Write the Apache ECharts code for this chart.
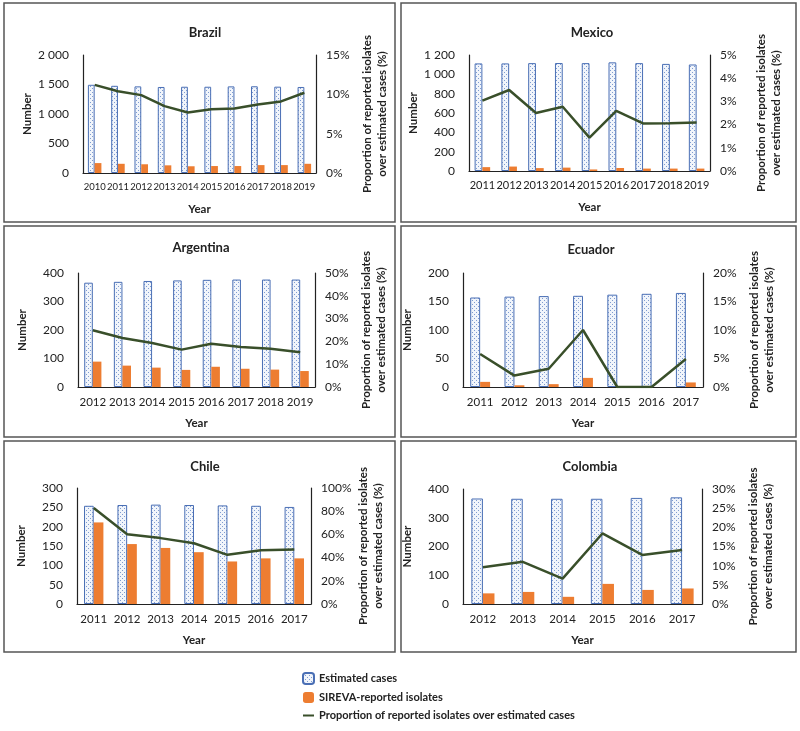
<!DOCTYPE html>
<html>
<head>
<meta charset="utf-8">
<script src="https://cdn.jsdelivr.net/npm/echarts@6/dist/echarts.min.js"></script>
<style>
html, body { margin: 0; padding: 0; background: #fff; }
#main { width: 800px; height: 731px; }
</style>
</head>
<body>
<div id="main"></div>
<script>
// data
var brazilYears = ['2010', '2011', '2012', '2013', '2014', '2015', '2016', '2017', '2018', '2019'];
var brazilEstimated = [1495, 1478, 1468, 1458, 1462, 1462, 1468, 1470, 1463, 1458];
var brazilSireva = [168, 156, 148, 130, 114, 118, 118, 134, 134, 156];
var brazilProportion = [11.2, 10.4, 9.9, 8.5, 7.7, 8.1, 8.2, 8.7, 9.1, 10.2];

var mexicoYears = ['2011', '2012', '2013', '2014', '2015', '2016', '2017', '2018', '2019'];
var mexicoEstimated = [1113, 1113, 1116, 1117, 1116, 1124, 1116, 1108, 1102];
var mexicoSireva = [40, 46, 30, 35, 16, 31, 25, 25, 25];
var mexicoProportion = [3.03, 3.49, 2.5, 2.77, 1.44, 2.59, 2.05, 2.06, 2.09];

var argentinaYears = ['2012', '2013', '2014', '2015', '2016', '2017', '2018', '2019'];
var argentinaEstimated = [366, 369, 372, 374, 376, 377, 377, 377];
var argentinaSireva = [89, 75, 68, 60, 71, 64, 61, 56];
var argentinaProportion = [24.9, 21.5, 19.3, 16.4, 19.0, 17.5, 16.8, 15.2];

var ecuadorYears = ['2011', '2012', '2013', '2014', '2015', '2016', '2017'];
var ecuadorEstimated = [157, 158.5, 159.5, 160, 162, 163.5, 165];
var ecuadorSireva = [9, 3, 5, 16, 0, 0, 8];
var ecuadorProportion = [5.8, 2.0, 3.2, 10.0, 0, 0, 4.9];

var chileYears = ['2011', '2012', '2013', '2014', '2015', '2016', '2017'];
var chileEstimated = [254, 256, 257, 256, 255, 254, 251];
var chileSireva = [211, 155, 145, 134, 110, 118, 118];
var chileProportion = [82.7, 60.2, 56.8, 52.4, 42.4, 46.4, 47.0];

var colombiaYears = ['2012', '2013', '2014', '2015', '2016', '2017'];
var colombiaEstimated = [367, 366, 366, 366, 369, 371];
var colombiaSireva = [37, 42, 25, 70, 49, 54];
var colombiaProportion = [9.6, 11.0, 6.6, 18.4, 12.8, 14.1];

var panels = [
  { name: 'Brazil', years: brazilYears, est: brazilEstimated, sir: brazilSireva, prop: brazilProportion, leftMax: 2000, leftStep: 500, rightMax: 15, rightStep: 5 },
  { name: 'Mexico', years: mexicoYears, est: mexicoEstimated, sir: mexicoSireva, prop: mexicoProportion, leftMax: 1200, leftStep: 200, rightMax: 5, rightStep: 1 },
  { name: 'Argentina', years: argentinaYears, est: argentinaEstimated, sir: argentinaSireva, prop: argentinaProportion, leftMax: 400, leftStep: 100, rightMax: 50, rightStep: 10 },
  { name: 'Ecuador', years: ecuadorYears, est: ecuadorEstimated, sir: ecuadorSireva, prop: ecuadorProportion, leftMax: 200, leftStep: 50, rightMax: 20, rightStep: 5 },
  { name: 'Chile', years: chileYears, est: chileEstimated, sir: chileSireva, prop: chileProportion, leftMax: 300, leftStep: 50, rightMax: 100, rightStep: 20 },
  { name: 'Colombia', years: colombiaYears, est: colombiaEstimated, sir: colombiaSireva, prop: colombiaProportion, leftMax: 400, leftStep: 100, rightMax: 30, rightStep: 5 }
];

// where each panel sits on the page
var layout = [
  { grid: { left: 83, top: 55, width: 233, height: 118 }, titleX: 200, titleY: 21, box: [4, 3, 391, 219], xSize: 9.5 },
  { grid: { left: 469, top: 55, width: 241, height: 116 }, titleX: 587, titleY: 21, box: [401, 3, 395, 219], xSize: 11 },
  { grid: { left: 78, top: 273, width: 237, height: 114 }, titleX: 196, titleY: 236, box: [4, 226, 391, 211], xSize: 11.5 },
  { grid: { left: 463, top: 273, width: 240, height: 114 }, titleX: 586, titleY: 238, box: [401, 226, 395, 211], xSize: 11.5 },
  { grid: { left: 77, top: 488, width: 234, height: 116 }, titleX: 200, titleY: 455, box: [4, 441, 391, 211], xSize: 11.5 },
  { grid: { left: 463, top: 489, width: 239, height: 115 }, titleX: 585, titleY: 455, box: [401, 441, 395, 211], xSize: 11.5 }
];

var FONT = 'Lato';
var estName = 'Estimated cases';
var sirName = 'SIREVA-reported isolates';
var propName = 'Proportion of reported isolates over estimated cases';

function dotPattern() {
  var c = document.createElement('canvas');
  c.width = 4; c.height = 4;
  var ctx = c.getContext('2d');
  ctx.fillStyle = '#f1f5fb';
  ctx.fillRect(0, 0, 4, 4);
  ctx.fillStyle = '#7f9bd0';
  ctx.fillRect(0, 0, 1, 1);
  ctx.fillRect(2, 2, 1, 1);
  return c;
}
var dots = { image: dotPattern(), repeat: 'repeat' };

function spaced(v) {
  return String(v).replace(/\B(?=(\d{3})+(?!\d))/g, ' ');
}

var grids = [], xAxes = [], yAxes = [], series = [], titles = [], boxes = [];

panels.forEach(function (p, i) {
  var l = layout[i];
  grids.push(l.grid);
  titles.push({
    text: p.name, left: l.titleX, top: l.titleY, textAlign: 'center',
    textStyle: { fontFamily: FONT, fontSize: 13, fontWeight: 'bold', color: '#222' }
  });
  boxes.push({
    type: 'rect', shape: { x: l.box[0], y: l.box[1], width: l.box[2], height: l.box[3] },
    style: { fill: 'none', stroke: '#555', lineWidth: 1.5 }, silent: true
  });
  xAxes.push({
    type: 'category', gridIndex: i, data: p.years,
    name: 'Year', nameLocation: 'middle', nameGap: 30,
    nameTextStyle: { fontFamily: FONT, fontSize: 11.5, fontWeight: 'bold', color: '#222' },
    axisLine: { lineStyle: { color: '#222', width: 1.2 } },
    axisTick: { show: false },
    axisLabel: { interval: 0, margin: 9, fontFamily: FONT, fontSize: l.xSize, color: '#222' }
  });
  yAxes.push({
    type: 'value', gridIndex: i, min: 0, max: p.leftMax, interval: p.leftStep,
    name: 'Number', nameLocation: 'middle', nameGap: 50, nameRotate: 90,
    nameTextStyle: { fontFamily: FONT, fontSize: 11.5, fontWeight: 'bold', color: '#222' },
    axisLine: { show: true, lineStyle: { color: '#222', width: 1.2 } },
    axisTick: { show: false },
    splitLine: { show: false },
    axisLabel: { margin: 14, fontFamily: FONT, fontSize: 12, color: '#222', formatter: spaced }
  });
  yAxes.push({
    type: 'value', gridIndex: i, position: 'right', min: 0, max: p.rightMax, interval: p.rightStep,
    name: 'Proportion of reported isolates\nover estimated cases (%)', nameLocation: 'middle', nameGap: 44, nameRotate: 90,
    nameTextStyle: { fontFamily: FONT, fontSize: 11.5, fontWeight: 'bold', color: '#222', lineHeight: 15 },
    axisLine: { show: true, lineStyle: { color: '#222', width: 1.2 } },
    axisTick: { show: false },
    splitLine: { show: false },
    axisLabel: { margin: 10, fontFamily: FONT, fontSize: 12, color: '#222', formatter: '{value}%' }
  });
  series.push({
    name: estName, type: 'bar', xAxisIndex: i, yAxisIndex: 2 * i, data: p.est,
    barGap: '0%', barCategoryGap: '42%',
    itemStyle: { color: dots, borderColor: '#4a6fb5', borderWidth: 1 }
  });
  series.push({
    name: sirName, type: 'bar', xAxisIndex: i, yAxisIndex: 2 * i, data: p.sir,
    barGap: '0%', barCategoryGap: '42%',
    itemStyle: { color: '#ed7d31' }
  });
  series.push({
    name: propName, type: 'line', xAxisIndex: i, yAxisIndex: 2 * i + 1, data: p.prop,
    symbol: 'none', lineStyle: { color: '#394f2a', width: 2.5 }, itemStyle: { color: '#394f2a' }
  });
});

var chart = echarts.init(document.getElementById('main'));
chart.setOption({
  backgroundColor: '#fff',
  animation: false,
  title: titles,
  grid: grids,
  xAxis: xAxes,
  yAxis: yAxes,
  series: series,
  legend: {
    orient: 'vertical', left: 297, top: 667, itemGap: 7, itemWidth: 11, itemHeight: 11,
    data: [estName, sirName, { name: propName, itemStyle: { opacity: 0 } }],
    textStyle: { fontFamily: FONT, fontSize: 11, fontWeight: 'bold', color: '#222' }
  },
  graphic: boxes
});
</script>
</body>
</html>
